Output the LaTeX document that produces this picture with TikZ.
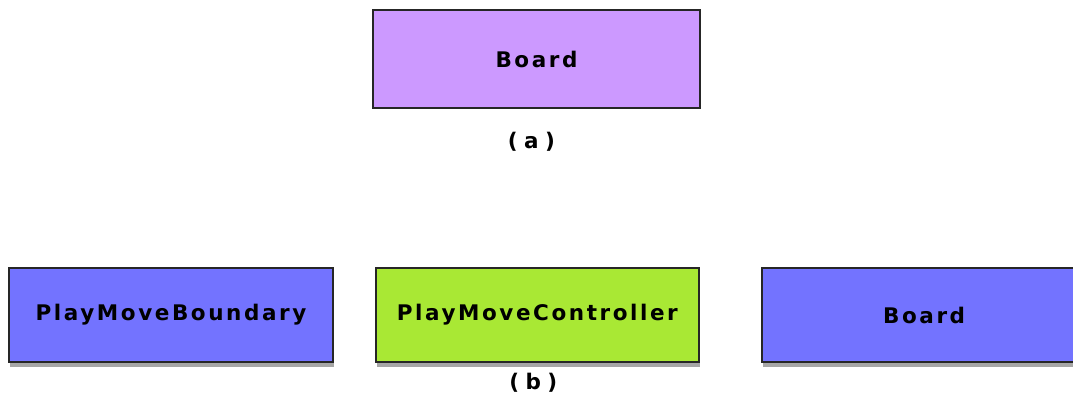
\documentclass[tikz,border=0pt]{standalone}
\usepackage{fontspec}
\setmainfont{DejaVu Sans}
\usetikzlibrary{positioning,shadows}
\definecolor{umlviolet}{HTML}{CC99FF}
\definecolor{umlblue}{HTML}{7373FF}
\definecolor{umlgreen}{HTML}{A9E834}

\begin{document}
\begin{tikzpicture}[
  x=1pt, y=1pt,
  font=\fontsize{21.5}{25}\selectfont\bfseries\addfontfeatures{LetterSpace=12},
  cls/.style={draw=black!85, line width=1.8pt, inner sep=0pt,
              minimum width=324pt, minimum height=94pt},
  shadowed/.style={drop shadow={shadow xshift=1pt, shadow yshift=-5pt,
                   fill=black!35, opacity=1}},
  figlbl/.style={inner sep=0pt, font=\fontsize{21.5}{25}\selectfont\bfseries\addfontfeatures{LetterSpace=30}},
]
\useasboundingbox (0,0) rectangle (1073,398);

% ---- (a) single class ----
\node[cls, fill=umlviolet, minimum width=327pt, minimum height=98pt] (board) at (536.5,339) {Board};
\node[figlbl, below=23pt of board, xshift=-5pt] (lbla) {(a)};

% ---- (b) boundary / controller / entity ----
\node[cls, shadowed, fill=umlblue] (bound) at (171,83) {PlayMoveBoundary};
\node[cls, shadowed, fill=umlgreen, minimum width=323pt, right=41pt of bound] (ctrl) {PlayMoveController};
\node[cls, shadowed, fill=umlblue, minimum width=325pt, right=61pt of ctrl] (entity) {Board};
\node[figlbl, below=10pt of ctrl, xshift=-4pt] (lblb) {(b)};
\end{tikzpicture}
\end{document}
